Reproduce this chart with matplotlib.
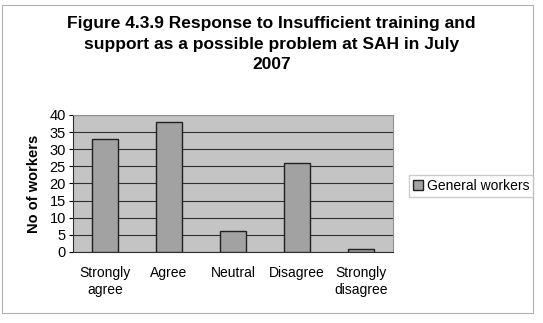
import matplotlib

matplotlib.use("Agg")
import matplotlib.pyplot as plt
from matplotlib.patches import Rectangle

# ── Data ───────────────────────────────────────────────
categories = ["Strongly\nagree", "Agree", "Neutral", "Disagree", "Strongly\ndisagree"]
workers = [33, 38, 6, 26, 1]
yticks = [0, 5, 10, 15, 20, 25, 30, 35, 40]

plt.rcParams["font.family"] = ["Liberation Sans", "DejaVu Sans"]

fig = plt.figure(figsize=(5.43, 3.23), dpi=100)
fig.patch.set_facecolor("white")

# chart border
fig.patches.append(Rectangle((0.004, 0.03), 0.978, 0.955, transform=fig.transFigure,
                             fill=False, edgecolor="#b0b0b0", linewidth=0.8))

ax = fig.add_axes([0.134, 0.220, 0.590, 0.424])
ax.set_facecolor("#c4c4c4")

x = range(len(categories))
ax.bar(x, workers, width=0.4, color="#a2a2a2", edgecolor="#202020",
       linewidth=1.0, label="General workers", zorder=3)

ax.set_ylim(0, 40)
ax.set_xlim(-0.5, len(categories) - 0.5)
ax.set_yticks(yticks)
ax.yaxis.grid(True, color="#303030", linewidth=0.8, zorder=0)
ax.set_xticks(list(x))
ax.set_xticklabels(categories, fontsize=10, linespacing=1.3)
ax.tick_params(axis="y", labelsize=10.5, length=3, pad=2)
ax.tick_params(axis="x", length=0, pad=10)

for side in ["top", "right"]:
    ax.spines[side].set_color("#909090")
ax.spines["left"].set_color("#303030")
ax.spines["bottom"].set_color("#303030")

ax.set_ylabel("No of workers", fontsize=10.5, fontweight="bold", labelpad=6)

fig.text(0.5, 0.95,
         "Figure 4.3.9 Response to Insufficient training and\n"
         "support as a possible problem at SAH in July\n2007",
         ha="center", va="top", fontsize=12.5, fontweight="bold",
         linespacing=1.45)

leg = fig.legend(loc="center left", bbox_to_anchor=(0.74, 0.425), fontsize=10,
                 frameon=True, fancybox=False, edgecolor="#c0c0c0",
                 handlelength=0.7, handleheight=0.7, handletextpad=0.3,
                 borderpad=0.3)

fig.savefig("out.png", dpi=100)
